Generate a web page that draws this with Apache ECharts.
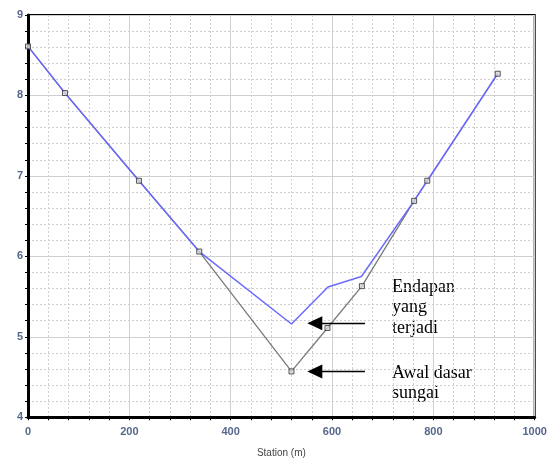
<!DOCTYPE html>
<html>
<head>
<meta charset="utf-8">
<script src="https://cdn.jsdelivr.net/npm/echarts@6/dist/echarts.min.js"></script>
<style>html,body{margin:0;padding:0;background:#fff;}#c{width:552px;height:459px;}</style>
</head>
<body>
<div id="c"></div>
<script>
// Original river bed (Awal dasar sungai)
var groundStation = [0, 73, 219, 338, 520, 591, 659, 762, 788, 927];
var groundElev    = [8.61, 8.03, 6.94, 6.06, 4.57, 5.11, 5.63, 6.69, 6.94, 8.27];
// Bed after sedimentation (Endapan yang terjadi)
var sedStation = [0, 73, 219, 338, 520, 592, 658, 762, 788, 927];
var sedElev    = [8.61, 8.03, 6.94, 6.06, 5.16, 5.62, 5.75, 6.69, 6.94, 8.27];
// Annotation arrows [fromStation, arrowheadCentreStation, elevation]
var arrowEndapan = [665, 566, 5.17];
var arrowAwal    = [665, 566, 4.57];
var xTicks = [0, 200, 400, 600, 800, 1000];
var yTicks = [4, 5, 6, 7, 8, 9];

function zip(a, b) { return a.map(function (v, i) { return [v, b[i]]; }); }
function arrowLine(a) {
  return [{ coord: [a[0], a[2]], symbol: 'none' }, { coord: [a[1], a[2]], symbol: 'triangle' }];
}

var chart = echarts.init(document.getElementById('c'));
var labelStyle = { color: '#56678d', fontSize: 11, fontWeight: 'bold', fontFamily: 'Arial, Liberation Sans' };
chart.setOption({
  animation: false,
  grid: { left: 28, right: 17.3, top: 15, bottom: 41.7, show: true, borderColor: '#000', borderWidth: 2, containLabel: false, outerBoundsMode: 'none' },
  xAxis: {
    type: 'value', min: xTicks[0], max: xTicks[xTicks.length - 1], interval: 200,
    name: 'Station (m)', nameLocation: 'middle', nameGap: 31,
    nameTextStyle: { color: '#444', fontSize: 10, fontFamily: 'Arial, Liberation Sans' },
    axisLine: { show: true, lineStyle: { color: '#000', width: 3 } },
    axisTick: { show: true, length: 3, lineStyle: { color: '#000' } },
    minorTick: { show: true, splitNumber: 5, length: 3, lineStyle: { color: '#000' } },
    axisLabel: Object.assign({ margin: 9, formatter: function (v) { return String(v); } }, labelStyle),
    splitLine: { show: true, lineStyle: { color: '#cfcfcf', width: 1 } },
    minorSplitLine: { show: true, lineStyle: { color: '#cfcfcf', width: 1, type: [2, 2] } }
  },
  yAxis: {
    type: 'value', min: yTicks[0], max: yTicks[yTicks.length - 1], interval: 1,
    axisLine: { show: true, lineStyle: { color: '#000', width: 3 } },
    axisTick: { show: true, length: 3, lineStyle: { color: '#000' } },
    minorTick: { show: true, splitNumber: 5, length: 3, lineStyle: { color: '#000' } },
    axisLabel: Object.assign({ margin: 5 }, labelStyle),
    splitLine: { show: true, lineStyle: { color: '#cfcfcf', width: 1 } },
    minorSplitLine: { show: true, lineStyle: { color: '#cfcfcf', width: 1, type: [2, 2] } }
  },
  series: [
    {
      type: 'line', data: zip(groundStation, groundElev), showSymbol: false,
      lineStyle: { color: '#7a7a7a', width: 1.3 }, z: 2,
      markLine: {
        silent: true, symbolSize: [14, 15], animation: false,
        lineStyle: { color: '#000', width: 1.3, type: 'solid' },
        itemStyle: { color: '#000' },
        label: { show: false },
        data: [arrowLine(arrowEndapan), arrowLine(arrowAwal)]
      }
    },
    {
      type: 'line', data: zip(sedStation, sedElev), showSymbol: false,
      lineStyle: { color: '#6a6aff', width: 1.5 }, z: 3
    },
    {
      type: 'scatter', data: zip(groundStation, groundElev), symbol: 'rect', symbolSize: 5,
      itemStyle: { color: '#d8d8d8', borderColor: '#333', borderWidth: 1 }, z: 4
    }
  ],
  graphic: [
    { type: 'text', left: 392, top: 277, style: { text: 'Endapan\nyang\nterjadi', font: '18px "Liberation Serif", "Times New Roman", serif', lineHeight: 20.5, fill: '#000' } },
    { type: 'text', left: 392, top: 363, style: { text: 'Awal dasar\nsungai', font: '18px "Liberation Serif", "Times New Roman", serif', lineHeight: 20.5, fill: '#000' } }
  ]
});
</script>
</body>
</html>
